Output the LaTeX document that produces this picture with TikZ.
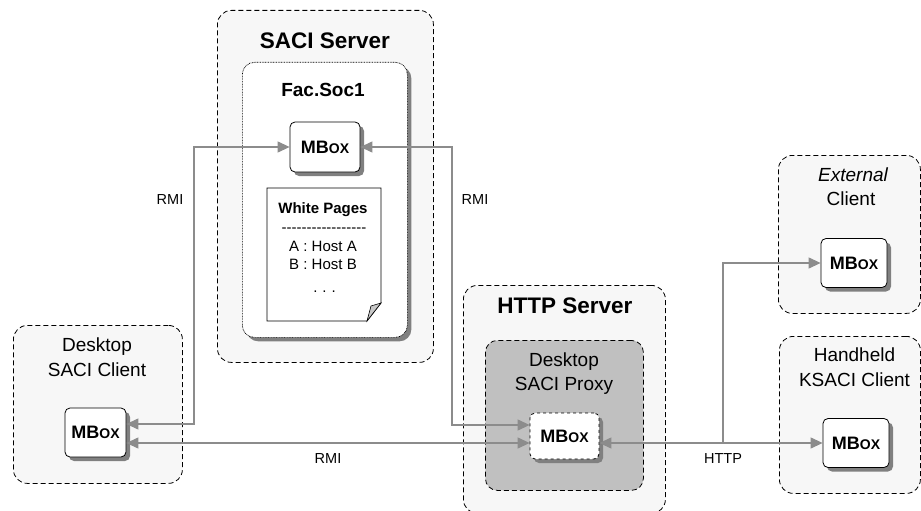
\documentclass[tikz,border=0pt]{standalone}
\usepackage{fontspec}
\setmainfont{Liberation Sans}
% a family without TeX ligatures, so a run of hyphens stays a run of hyphens
\newfontfamily\nolig{Liberation Sans}
\usetikzlibrary{arrows.meta,shadows}

\definecolor{boxfill}{HTML}{F7F7F7}
\definecolor{proxyfill}{HTML}{C0C0C0}
\definecolor{wire}{HTML}{8C8C8C}
\definecolor{shade}{HTML}{808080}

% label of a message box: bold, with small capitals
\newcommand\mbxtext{MB{\fontsize{14}{14}\selectfont OX}}

\begin{document}
\begin{tikzpicture}[x=1pt,y=-1pt,
  group/.style={draw,dash pattern=on 5pt off 3pt,line width=0.8pt,rounded corners=14pt,
    fill=boxfill,anchor=north west,inner sep=0pt},
  proxybox/.style={group,fill=proxyfill,rounded corners=12pt},
  society/.style={draw,dash pattern=on 0.8pt off 0.8pt,line width=0.7pt,rounded corners=12pt,
    fill=white,anchor=north west,inner sep=0pt,
    drop shadow={shadow xshift=4pt,shadow yshift=-4pt,fill=shade,opacity=1}},
  mbx/.style={draw,line width=0.8pt,rounded corners=5pt,fill=white,inner sep=0pt,
    minimum width=66pt,minimum height=49pt,font=\bfseries\fontsize{18}{18}\selectfont,
    drop shadow={shadow xshift=4pt,shadow yshift=-4pt,fill=shade,opacity=1}},
  conn/.style={draw=wire,line width=1.2pt,>={Triangle[length=12pt,width=11pt]}},
  title/.style={anchor=base,inner sep=0pt,font=\bfseries\fontsize{22.5}{27}\selectfont},
  subtitle/.style={anchor=base,inner sep=0pt,font=\bfseries\fontsize{19}{23}\selectfont},
  caption/.style={anchor=base,inner sep=0pt,font=\fontsize{19}{23}\selectfont},
  pagetext/.style={anchor=base,inner sep=0pt,font=\fontsize{15}{18}\selectfont},
  wirelabel/.style={anchor=base,inner sep=0pt,font=\fontsize{14.5}{17}\selectfont}]

\useasboundingbox (0,0) rectangle (921,511);

% ---- containers ----
\node[group,minimum width=216pt,minimum height=352pt] (saci) at (217,10) {};
\node[society,minimum width=165pt,minimum height=275pt] (facsoc) at (242,62) {};
\node[group,minimum width=169pt,minimum height=158pt] (dclient) at (13,325) {};
\node[group,minimum width=202pt,minimum height=228pt] (http) at (463,285) {};
\node[proxybox,minimum width=158pt,minimum height=150pt] (proxy) at (485,340) {};
\node[group,minimum width=142pt,minimum height=158pt] (ext) at (778,155) {};
\node[group,minimum width=141pt,minimum height=157pt] (hand) at (779,336) {};

% ---- white pages sheet with a curled corner ----
\draw[line width=0.8pt,fill=white] (267,188) -- (381,188) -- (381,303) -- (367,321) -- (267,321) -- cycle;
\draw[line width=0.6pt,fill=black!22] (367,321) -- (381,303) -- (371,306) -- cycle;
\node[pagetext,font=\bfseries\fontsize{15}{18}\selectfont] (wpt) at (323,213) {White Pages};
\node[pagetext] (wpd) at (324,232) {\nolig -----------------};
\node[pagetext] (wpa) at (323,251) {A : Host A};
\node[pagetext] (wpb) at (323,269) {B : Host B};
\node[pagetext] (wpe) at (324.5,292) {.\,\,.\,\,.};

% ---- message boxes ----
\node[mbx,minimum width=70pt,minimum height=50pt] (smbox) at (325,147) {\mbxtext};
\node[mbx,minimum width=61pt] (dmbox) at (95.5,432.5) {\mbxtext};
\node[mbx,dashed,minimum width=69pt,minimum height=46pt] (pmbox) at (564.5,436) {\mbxtext};
\node[mbx] (embox) at (854,263) {\mbxtext};
\node[mbx] (hmbox) at (856,443) {\mbxtext};

% ---- titles ----
\node[title] (tsaci) at (325,48.5) {SACI Server};
\node[subtitle] (tfac) at (323,96) {Fac.Soc1};
\node[title] (thttp) at (565,313) {HTTP Server};
\node[caption] (tdc1) at (97,351.5) {Desktop};
\node[caption] (tdc2) at (97,376) {SACI Client};
\node[caption] (tpx1) at (564,366) {Desktop};
\node[caption] (tpx2) at (564,390) {SACI Proxy};
\node[caption] (tex1) at (853,181) {\itshape External};
\node[caption] (tex2) at (851,205) {Client};
\node[caption] (thh1) at (854.5,361.5) {Handheld};
\node[caption] (thh2) at (854.5,386.5) {KSACI Client};

% ---- connectors ----
\coordinate (rmiL) at (194,147);
\coordinate (rmiR) at (452,147);
\coordinate (tee) at (723,443);
\draw[conn,<->] (smbox.west) -- (rmiL) |- ([yshift=8.5pt]dmbox.east);
\draw[conn,<->] (smbox.east) -- (rmiR) |- ([yshift=11pt]pmbox.west);
\draw[conn,<->] ([yshift=-10.5pt]dmbox.east) -- ([yshift=-7pt]pmbox.west);
\draw[conn,<->] ([yshift=-7pt]pmbox.east) -- (hmbox.west);
\draw[conn,->] (tee) |- (embox.west);

% ---- connector labels ----
\node[wirelabel] (lrmi1) at (170,204) {RMI};
\node[wirelabel] (lrmi2) at (475,204) {RMI};
\node[wirelabel] (lrmi3) at (328,463) {RMI};
\node[wirelabel] (lhttp) at (723,463) {HTTP};
\end{tikzpicture}
\end{document}
